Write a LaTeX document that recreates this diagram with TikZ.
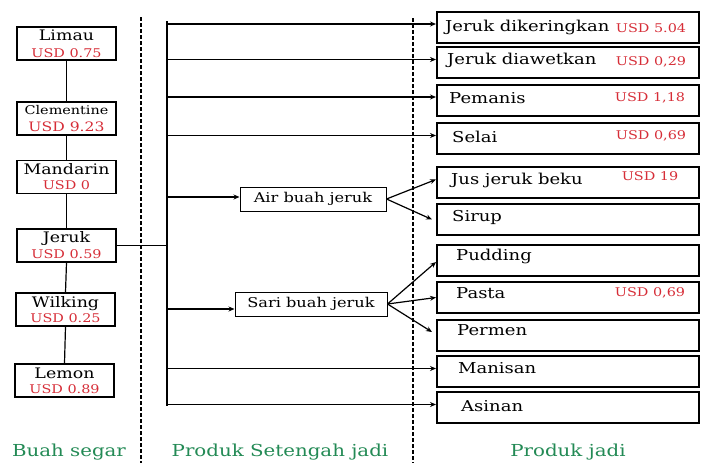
\documentclass[tikz,border=0pt]{standalone}
\usepackage{fontspec}
\setmainfont{DejaVu Serif}[FakeStretch=1.2]
\usetikzlibrary{arrows.meta}
\definecolor{usdred}{RGB}{214,45,55}
\definecolor{labelgreen}{RGB}{35,138,85}

\begin{document}
\begin{tikzpicture}[x=1pt,y=-1pt,
  fruit/.style={draw,line width=1.3pt,minimum width=99pt,minimum height=33pt,inner sep=0pt,align=center,font=\fontsize{14.5}{15}\selectfont},
  usd/.style={text=usdred,font=\fontsize{12}{13}\selectfont},
  prod/.style={draw,line width=2pt,minimum width=262pt,minimum height=31pt,inner sep=0pt},
  ptext/.style={anchor=west,inner sep=0pt,font=\fontsize{15}{17}\selectfont},
  semi/.style={draw,line width=1pt,minimum height=24pt,inner sep=0pt,font=\fontsize{13.5}{15}\selectfont},
  arr/.style={line width=1.2pt,-{Stealth[length=6pt,width=5pt]}},
  line/.style={line width=1.2pt},
  divider/.style={line width=1.2pt,dash pattern=on 4pt off 2pt},
  colhead/.style={text=labelgreen,font=\fontsize{16.5}{18}\selectfont}]
  \useasboundingbox (0,0) rectangle (719,463);

  % buah segar
  \node[fruit] (limau) at (66.5,43.5) {Limau\\[2pt]\textcolor{usdred}{\fontsize{12}{13}\selectfont USD 0.75}};
  \node[fruit] (clem) at (66.5,118.5) {{\fontsize{12}{13}\selectfont Clementine}\\[2pt]\textcolor{usdred}{\fontsize{13}{13}\selectfont USD 9.23}};
  \node[fruit] (mandarin) at (66.5,177) {Mandarin\\\textcolor{usdred}{\fontsize{12}{12}\selectfont USD 0}};
  \node[fruit] (jeruk) at (66.5,245.5) {Jeruk\\[1pt]\textcolor{usdred}{\fontsize{12}{12}\selectfont USD 0.59}};
  \node[fruit] (wilking) at (65.5,309.5) {Wilking\\\textcolor{usdred}{\fontsize{12}{12}\selectfont USD 0.25}};
  \node[fruit] (lemon) at (64.5,380.5) {Lemon\\\textcolor{usdred}{\fontsize{12}{12}\selectfont USD 0.89}};
  \foreach \a/\b in {limau/clem,clem/mandarin,mandarin/jeruk,jeruk/wilking,wilking/lemon}
    \draw[line] (\a.south) -- (\b.north);

  % produk jadi
  \node[prod] (dikering) at (568,27) {};
  \node[prod] (diawet) at (568,62.5) {};
  \node[prod] (pemanis) at (568,100) {};
  \node[prod] (selai) at (568,138.5) {};
  \node[prod] (jusbeku) at (568,182.5) {};
  \node[prod] (sirup) at (568,219.5) {};
  \node[prod] (pudding) at (568,260) {};
  \node[prod] (pasta) at (568,297.5) {};
  \node[prod] (permen) at (568,335) {};
  \node[prod] (manisan) at (568,371.5) {};
  \node[prod] (asinan) at (568,407.5) {};

  \node[ptext] (dikering-t) at (445,27) {Jeruk dikeringkan};
  \node[ptext] (diawet-t) at (447,60) {Jeruk diawetkan};
  \node[ptext] (pemanis-t) at (449,98) {Pemanis};
  \node[ptext] (selai-t) at (452,137) {Selai};
  \node[ptext] (jusbeku-t) at (451,180) {Jus jeruk beku};
  \node[ptext] (sirup-t) at (452,217) {Sirup};
  \node[ptext] (pudding-t) at (456,256) {Pudding};
  \node[ptext] (pasta-t) at (456,293) {Pasta};
  \node[ptext] (permen-t) at (457,330) {Permen};
  \node[ptext] (manisan-t) at (458,368) {Manisan};
  \node[ptext] (asinan-t) at (461,406) {Asinan};

  \node[usd] (dikering-p) at (651,28) {USD 5.04};
  \node[usd] (diawet-p) at (651,62) {USD 0,29};
  \node[usd] (pemanis-p) at (650,98) {USD 1,18};
  \node[usd] (selai-p) at (651,136) {USD 0,69};
  \node[usd] (jusbeku-p) at (650,176) {USD 19};
  \node[usd] (pasta-p) at (650,293) {USD 0,69};

  % produk setengah jadi
  \node[semi,minimum width=146pt] (air) at (313,199) {Air buah jeruk};
  \node[semi,minimum width=152pt] (sari) at (311,304) {Sari buah jeruk};

  \coordinate (trunk) at (167,21);
  \draw[line] (trunk) -- ([yshift=2pt]asinan.west -| trunk);
  \draw[line] (jeruk.east) -- (jeruk.east -| trunk);
  \foreach \b in {dikering,diawet,pemanis,selai,manisan,asinan}
    \draw[arr] ([yshift=3pt]\b.west -| trunk) -- ([yshift=3pt]\b.west);
  \draw[arr] ([yshift=2pt]air.west -| trunk) -- ([yshift=2pt]air.west);
  \draw[arr] ([yshift=-5pt]sari.west -| trunk) -- ([yshift=-5pt]sari.west);
  \draw[arr] (air.east) -- ([yshift=3pt]jusbeku.west);
  \draw[arr] (air.east) -- ([xshift=-4pt]sirup.west);
  \draw[arr] (sari.east) -- ([yshift=-2pt]pudding.west);
  \draw[arr] (sari.east) -- (pasta.west);
  \draw[arr] (sari.east) -- ([xshift=-4pt,yshift=3pt]permen.west);

  % pembatas kolom
  \coordinate (div1-top) at (141,17);
  \coordinate (div1-bot) at (141,463);
  \coordinate (div2-top) at (413,18);
  \coordinate (div2-bot) at (413,463);
  \draw[divider] (div1-top) -- (div1-bot);
  \draw[divider] (div2-top) -- (div2-bot);

  \node[colhead] (segar) at (69,452) {Buah segar};
  \node[colhead] (setengah) at (280,452) {Produk Setengah jadi};
  \node[colhead] (jadi) at (568,452) {Produk jadi};
\end{tikzpicture}
\end{document}
